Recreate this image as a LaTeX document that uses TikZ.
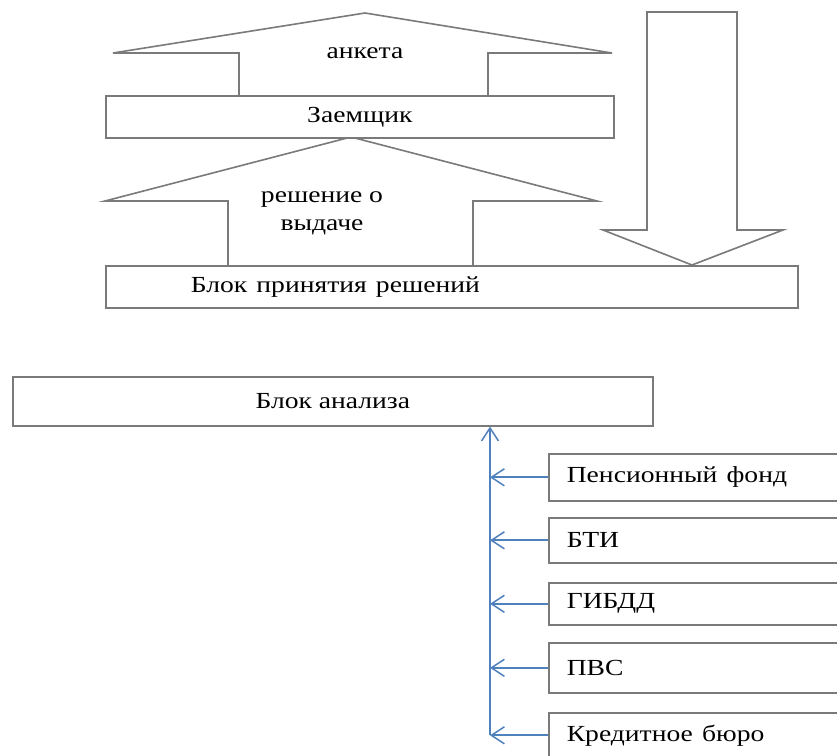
\documentclass[tikz,border=0pt]{standalone}
\usepackage{fontspec}
\setmainfont{Liberation Serif}
\usetikzlibrary{arrows.meta}
\definecolor{edgegray}{HTML}{7A7A7A}
\definecolor{busblue}{HTML}{4F81BD}
\newcommand{\stx}[1]{\scalebox{1.2}[1]{#1}}
\begin{document}
\begin{tikzpicture}[x=1pt,y=-1pt,
  font=\fontsize{23}{27.6}\selectfont,
  box/.style={draw=edgegray, line width=1.6pt, fill=white, rectangle, inner sep=0pt, anchor=north west, text=black},
  src/.style={box, minimum height=#1, text width=282pt, inner xsep=18pt, align=left},
  blockarrow/.style={draw=edgegray, line width=1.6pt, fill=white, line join=miter},
  bluearr/.style={draw=busblue, line width=1.9pt, -{Straight Barb[length=13pt,width=17pt,line width=1.5pt]}},
  lbl/.style={inner sep=0pt, text=black}]
\useasboundingbox (0,0) rectangle (837,755);
\clip (0,0) rectangle (837,755);
\fill[white] (0,0) rectangle (837,755);
% block arrows
\draw[blockarrow] (239,95) -- (239,53) -- (113,53) -- (365,13) -- (612,53) -- (488,53) -- (488,95);
\draw[blockarrow] (228,265) -- (228,201) -- (105,201) -- (351,137) -- (597,201) -- (473,201) -- (473,265);
\draw[blockarrow] (647,12) -- (737,12) -- (737,230) -- (783,230) -- (692,265) -- (603,230) -- (647,230) -- cycle;
\node[lbl] (anketa) at (365,53) {\stx{анкета}};
\node[lbl, align=center] (reshenie) at (322,213) {\stx{решение о}\\\stx{выдаче}};
% main boxes
\node[box, minimum width=508pt, minimum height=42pt] (zaem) at (105,95) {\stx{Заемщик}};
\node[box, minimum width=692pt, minimum height=42pt, text width=522pt, inner xsep=85pt, align=left] (bpr) at (105,265) {\stx{Блок принятия решений}};
\node[box, minimum width=640pt, minimum height=49pt] (ban) at (12,376) {\stx{Блок анализа}};
% sources
\node[src=47pt] (pf) at (548,453) {\stx{Пенсионный фонд}};
\node[src=45pt] (bti) at (548,517) {\stx{БТИ}};
\node[src=42pt] (gibdd) at (548,582) {\stx{ГИБДД}};
\node[src=50pt] (pvs) at (548,642) {\stx{ПВС}};
\node[src=45pt] (kb) at (548,712) {\stx{Кредитное бюро}};
% bus
\coordinate (busx) at (490,0);
\coordinate (busbot) at (kb.west -| busx);
\draw[bluearr] (busbot) -- (busbot |- ban.south);
\foreach \s in {pf,bti,gibdd,pvs,kb}{
  \draw[bluearr] (\s.west) -- (\s.west -| busx);
}
\end{tikzpicture}
\end{document}
